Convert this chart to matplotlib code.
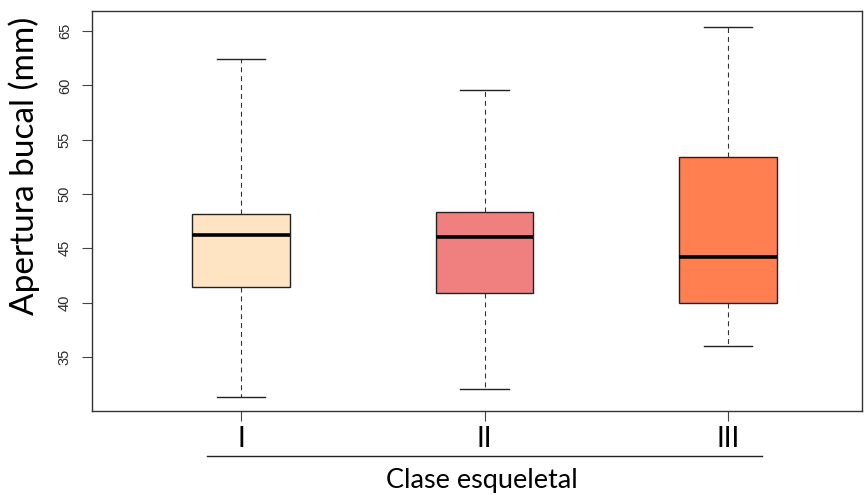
import matplotlib
matplotlib.use("Agg")
import matplotlib.pyplot as plt
from matplotlib.lines import Line2D

# datos (mm)
clases = ["I", "II", "III"]
bigote_inf = [31.3, 32.1, 36.0]
cuartil_1 = [41.4, 40.9, 40.0]
mediana = [46.2, 46.0, 44.2]
cuartil_3 = [48.2, 48.3, 53.4]
bigote_sup = [62.4, 59.6, 65.4]
colores = ["#FFE4C4", "#F08080", "#FF7F50"]

fig = plt.figure(figsize=(8.65, 4.95), dpi=100)
ax = fig.add_axes([0.1064, 0.1697, 0.89, 0.808])

stats = []
for i in range(len(clases)):
    stats.append({"label": clases[i], "whislo": bigote_inf[i], "q1": cuartil_1[i],
                  "med": mediana[i], "q3": cuartil_3[i], "whishi": bigote_sup[i]})

bp = ax.bxp(stats, positions=[1, 2, 3], widths=0.4, patch_artist=True, showfliers=False,
            boxprops=dict(edgecolor="#222222", linewidth=1.0),
            medianprops=dict(color="black", linewidth=2.6, solid_capstyle="butt"),
            whiskerprops=dict(color="#333333", linewidth=0.8, linestyle=(0, (4.5, 3.5))),
            capprops=dict(color="#222222", linewidth=1.0), capwidths=0.2)
for caja, c in zip(bp["boxes"], colores):
    caja.set_facecolor(c)

ax.set_xlim(0.388, 3.55)
ax.set_ylim(30.03, 66.84)

ax.set_yticks([35, 40, 45, 50, 55, 60, 65])
ax.set_yticklabels(["35", "40", "45", "50", "55", "60", "65"], rotation=90, va="center",
                   fontsize=10.5, family="Liberation Sans", color="#2a2a2a")
ax.set_xticks([1, 2, 3])
ax.set_xticklabels(clases, fontsize=20, family="Lato")
ax.tick_params(axis="y", length=7.5, width=0.8, color="#444444", pad=7)
ax.tick_params(axis="x", length=7.5, width=0.8, color="#444444", pad=3)

for s in ax.spines.values():
    s.set_color("#333333")
    s.set_linewidth(1.0)

fig.text(24 / 865, 0.6646, "Apertura bucal (mm)", rotation=90, ha="center", va="center",
         fontsize=24, family="Lato")

# linea bajo las etiquetas del eje x
fig.add_artist(Line2D([0.239, 0.881], [0.0778, 0.0778], color="#222222", linewidth=1.0))
fig.text(482 / 865, 0.0303, "Clase esqueletal", ha="center", va="center", fontsize=19.5, family="Lato")

fig.savefig("out.png", dpi=100)
